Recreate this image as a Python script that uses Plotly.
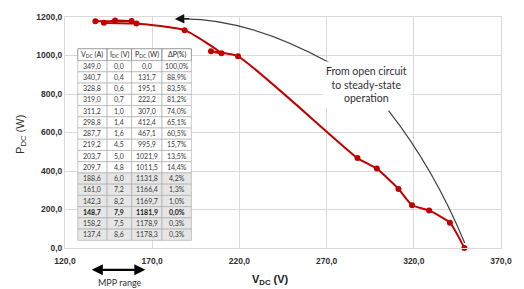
import plotly.graph_objects as go

# Data (table order)
v_dc = [349.0, 340.7, 328.8, 319.0, 311.2, 298.8, 287.7, 219.2, 203.7, 209.7,
        188.6, 161.0, 142.3, 148.7, 158.2, 137.4]
i_dc = [0.0, 0.4, 0.6, 0.7, 1.0, 1.4, 1.6, 4.5, 5.0, 4.8, 6.0, 7.2, 8.2, 7.9, 7.5, 8.6]
p_dc = [0.0, 131.7, 195.1, 222.2, 307.0, 412.4, 467.1, 995.9, 1021.9, 1011.5,
        1131.8, 1166.4, 1169.7, 1181.9, 1178.9, 1178.3]
dp_pct = [100.0, 88.9, 83.5, 81.2, 74.0, 65.1, 60.5, 15.7, 13.5, 14.4,
          4.2, 1.3, 1.0, 0.0, 0.3, 0.3]
headers = ["V<sub>DC</sub> (A)", "I<sub>DC</sub> (V)", "P<sub>DC</sub> (W)", "ΔP(%)"]
x_ticks = [120, 170, 220, 270, 320, 370]
y_ticks = [0, 200, 400, 600, 800, 1000, 1200]

W, H = 524, 289
ML, MR, MT, MB = 65, 14, 15, 41
PW, PH = W - ML - MR, H - MT - MB

def px(x):  # pixel x -> paper
    return (x - ML) / PW

def py(y):  # pixel y -> paper
    return (H - MB - y) / PH

def fmt(v):
    return f"{v:.1f}".replace(".", ",")

best = p_dc.index(max(p_dc))
cols = [[fmt(v) for v in v_dc], [fmt(v) for v in i_dc],
        [fmt(v) for v in p_dc], [fmt(v) + "%" for v in dp_pct]]

TXT = "#383838"
fig = go.Figure()
fig.add_trace(go.Scatter(
    x=v_dc, y=p_dc, mode="lines+markers",
    line=dict(color="#c00000", width=2, shape="spline", smoothing=0.5),
    marker=dict(color="#c00000", size=6),
    cliponaxis=False, showlegend=False, hoverinfo="skip"))

fig.update_layout(
    width=W, height=H,
    margin=dict(l=ML, r=MR, t=MT, b=MB),
    paper_bgcolor="white", plot_bgcolor="white",
    separators=",.",
    showlegend=False,
    xaxis=dict(range=[120, 370], tickvals=x_ticks, tickformat=".1f",
               showgrid=True, gridcolor="#d9d9d9", gridwidth=1,
               showline=True, linecolor="#d9d9d9", mirror=True, zeroline=False,
               ticks="", ticklabelstandoff=5,
               tickfont=dict(family="Liberation Sans", size=8.5, color="#303030", weight="bold")),
    yaxis=dict(range=[0, 1200], tickvals=y_ticks, tickformat=".1f",
               showgrid=True, gridcolor="#d9d9d9", gridwidth=1,
               showline=True, linecolor="#d9d9d9", mirror=True, zeroline=False,
               ticks="",
               tickfont=dict(family="Liberation Sans", size=8.5, color="#303030", weight="bold")),
)

def text_at(xp, yp, text, font, **kw):
    fig.add_annotation(x=px(xp), y=py(yp), xref="paper", yref="paper", showarrow=False,
                       xanchor="center", yanchor="middle", text=text, font=font,
                       borderpad=0, **kw)

# axis titles
text_at(275, 280, "<b>V<sub>DC</sub> (V)</b>",
        dict(family="Liberation Sans", size=11, color="#202020"))
text_at(20, 133, "P<sub>DC</sub> (W)",
        dict(family="Liberation Sans", size=11, color="#303030"), textangle=-90)

# table drawn manually
col_edges = [78, 108, 133, 164, 194]
top, hh, rh = 47, 12, 11.33
for c in range(4):
    x0, x1 = col_edges[c], col_edges[c + 1]
    xc = (x0 + x1) / 2
    fig.add_shape(type="rect", xref="paper", yref="paper",
                  x0=px(x0), x1=px(x1), y0=py(top + hh), y1=py(top),
                  fillcolor="white", line=dict(color="#808080", width=0.8))
    text_at(xc, top + hh / 2, headers[c], dict(family="Lato", size=7, color="#1a1a1a"))
    for r in range(len(v_dc)):
        y0 = top + hh + r * rh
        fill = "white" if r < 10 else "#e6e6e6"
        fig.add_shape(type="rect", xref="paper", yref="paper",
                      x0=px(x0), x1=px(x1), y0=py(y0 + rh), y1=py(y0),
                      fillcolor=fill, line=dict(color="#a6a6a6", width=0.6))
        s = cols[c][r]
        if r == best:
            s = "<b>" + s + "</b>"
        text_at(xc, y0 + rh / 2, s,
                dict(family="Lato", size=7, color="#1a1a1a" if r == best else TXT))

# curved arrows
fig.add_shape(type="path", xref="x", yref="y",
              path="M 271.7,962 Q 223.9,1200 185,1190",
              line=dict(color="#404040", width=1.2))
fig.add_annotation(x=182.9, y=1190, ax=192, ay=1192, axref="x", ayref="y",
                   xref="x", yref="y", text="", showarrow=True,
                   arrowhead=2, arrowsize=1.6, arrowwidth=1.2, arrowcolor="#111111")
fig.add_shape(type="path", xref="x", yref="y",
              path="M 305.5,714 Q 331.5,414 349.2,26",
              line=dict(color="#404040", width=1.2))

fig.add_annotation(x=293, y=848, xref="x", yref="y", showarrow=False,
                   xanchor="center", yanchor="middle",
                   text="From open circuit<br>to steady-state<br>operation",
                   font=dict(family="Lato", size=10.5, color="#303030"),
                   bgcolor="white", align="center", borderpad=3)

# MPP range double arrow
fig.add_annotation(x=px(147), y=py(270), xref="paper", yref="paper",
                   ax=-(147 - 92), ay=0, axref="pixel", ayref="pixel",
                   text="", showarrow=True, arrowside="end+start",
                   arrowhead=2, arrowsize=1.0, arrowwidth=2.2, arrowcolor="#000000")
text_at(121, 283, "MPP range", dict(family="Lato", size=9, color="#303030"))

fig.write_html("out.html", config={"displayModeBar": False},
               post_script="document.body.style.margin='0px';")
